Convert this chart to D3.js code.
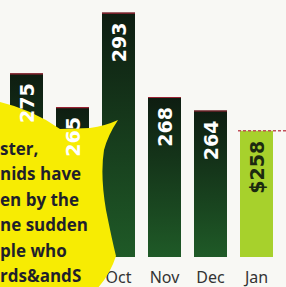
<!DOCTYPE html>
<html lang="en">
  <head>
    <meta charset="UTF-8" />
    <title>Monthly bars</title>
    <style>
      body { margin: 0; background: #f8f8f4; }
      svg { display: block; }
    </style>
  </head>
  <body>
    <div class="chart"></div>
    <script src="https://d3js.org/d3.v7.min.js"></script>
    <script>
      // values
      var months = ["Aug", "Sep", "Oct", "Nov", "Dec", "Jan"];
      var values = [275, 265, 293, 268, 264, 258];
      var valueLabels = ["275", "265", "293", "268", "264", "$258"];
      var bubbleLines = ["ster,", "nids have", "en by the", "ne sudden", "ple who", "rds&andS"];

      var w = 286, h = 287, baseline = 257;

      var svg = d3.select(".chart").append("svg")
        .attr("width", w)
        .attr("height", h);

      svg.append("rect").attr("width", w).attr("height", h).attr("fill", "#f8f8f4");

      var defs = svg.append("defs");
      var grad = defs.append("linearGradient").attr("id", "dark")
        .attr("x1", 0).attr("y1", 0).attr("x2", 0).attr("y2", 1);
      grad.append("stop").attr("offset", "0%").attr("stop-color", "#0e1d11");
      grad.append("stop").attr("offset", "100%").attr("stop-color", "#1f5a27");

      var x = d3.scaleBand()
        .domain(months)
        .range([3.5, 279.5])
        .paddingInner(13 / 46)
        .paddingOuter(6.5 / 46);

      var y = d3.scaleLinear()
        .domain([220, 300])
        .range([259, -11]);

      var last = months.length - 1;

      // month labels (Aug and Sep sit under the bubble, so only the rest show)
      svg.selectAll(".month")
        .data(months.slice(2))
        .enter()
        .append("text")
        .attr("x", function(d) { return x(d) + x.bandwidth() / 2; })
        .attr("y", 283)
        .attr("text-anchor", "middle")
        .attr("font-family", "'Noto Sans', sans-serif")
        .attr("font-size", "16px")
        .attr("fill", "#333")
        .text(function(d) { return d; });

      // bars
      svg.selectAll(".bar")
        .data(values)
        .enter()
        .append("rect")
        .attr("x", function(d, i) { return x(months[i]); })
        .attr("y", function(d) { return y(d); })
        .attr("width", x.bandwidth())
        .attr("height", function(d) { return baseline - y(d); })
        .attr("fill", function(d, i) { return i == last ? "#a7d12c" : "url(#dark)"; });

      // thin red caps on the dark bars
      svg.selectAll(".cap")
        .data(values.slice(0, last))
        .enter()
        .append("line")
        .attr("x1", function(d, i) { return x(months[i]); })
        .attr("x2", function(d, i) { return x(months[i]) + x.bandwidth(); })
        .attr("y1", function(d) { return y(d) + 0.5; })
        .attr("y2", function(d) { return y(d) + 0.5; })
        .attr("stroke", "#9a2333")
        .attr("stroke-width", 1.2);

      // dashed line on the last bar
      svg.append("line")
        .attr("x1", x(months[last]) - 2)
        .attr("x2", w)
        .attr("y1", y(values[last]))
        .attr("y2", y(values[last]))
        .attr("stroke", "#c0505a")
        .attr("stroke-width", 1.5)
        .attr("stroke-dasharray", "3,2");

      // yellow speech bubble
      svg.append("path")
        .attr("d", "M-5,101 Q30,108 60,129 L90,128 Q105,126 118,120 Q108,135 104,150 " +
                   "Q100,175 106,210 Q112,240 116,256 Q110,275 96,290 L-5,290 Z")
        .attr("fill", "#f7ec03");

      // value labels
      svg.selectAll(".val")
        .data(values)
        .enter()
        .append("text")
        .attr("transform", function(d, i) {
          return "translate(" + (x(months[i]) + x.bandwidth() / 2 + 7) + "," + (y(d) + 10) + ") rotate(-90)";
        })
        .attr("text-anchor", "end")
        .attr("font-family", "'DejaVu Sans', sans-serif")
        .attr("font-weight", "bold")
        .attr("font-size", "19px")
        .attr("fill", function(d, i) { return i == last ? "#1c2a10" : "#fff"; })
        .text(function(d, i) { return valueLabels[i]; });

      // bubble text
      svg.selectAll(".line")
        .data(bubbleLines)
        .enter()
        .append("text")
        .attr("x", 0)
        .attr("y", function(d, i) { return 155 + i * 25.4; })
        .attr("font-family", "'Open Sans', sans-serif")
        .attr("font-weight", "bold")
        .attr("font-size", "17px")
        .attr("fill", "#1f1f2b")
        .text(function(d) { return d; });
    </script>
  </body>
</html>
